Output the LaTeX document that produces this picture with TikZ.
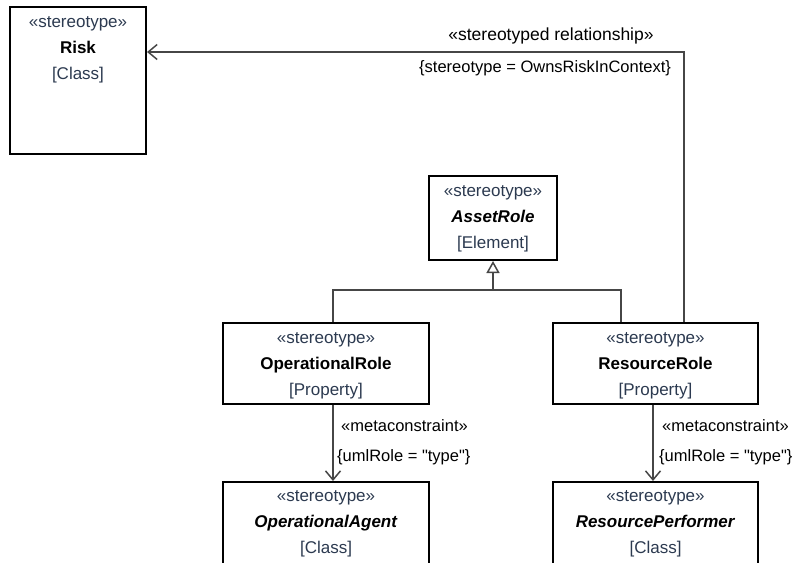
\documentclass[tikz,border=0pt]{standalone}
\usepackage{fontspec}
\setmainfont{Liberation Sans}
\usetikzlibrary{arrows.meta,calc}
\definecolor{stereo}{RGB}{44,58,80}
\definecolor{connc}{RGB}{70,70,70}
\newcommand{\st}{{\color{stereo}«stereotype»}}
\newcommand{\mc}[1]{{\color{stereo}[#1]}}
\begin{document}
\begin{tikzpicture}[x=1pt,y=-1pt,
  umlbox/.style={draw=black,line width=2pt,fill=white,inner sep=0pt,rectangle,anchor=north west},
  boxtext/.style={align=center,inner sep=0pt,font=\fontsize{17}{26}\selectfont},
  lbl/.style={inner sep=0pt,font=\fontsize{16.5}{20}\selectfont,text=black},
  connector/.style={draw=connc,line width=1.5pt},
  barb/.style={-{Straight Barb[length=9pt,width=15pt,line width=1.5pt]}},
  gen/.style={-{Triangle[open,length=12pt,width=13pt,line width=1.5pt,fill=white]}}
]
\useasboundingbox (0,0) rectangle (794,562);
\clip (0,0) rectangle (794,562);
\fill[white] (0,0) rectangle (794,562);

% boxes
\node[umlbox,minimum width=136pt,minimum height=147pt] (risk) at (9,6) {};
\node[umlbox,minimum width=128pt,minimum height=84pt] (ar) at (428,175) {};
\node[umlbox,minimum width=206pt,minimum height=81pt] (or) at (222,322) {};
\node[umlbox,minimum width=205pt,minimum height=81pt] (rr) at (552,322) {};
\node[umlbox,minimum width=206pt,minimum height=100pt] (oa) at (222,481) {};
\node[umlbox,minimum width=205pt,minimum height=100pt] (rp) at (552,481) {};

% box texts
\node[boxtext] (risktxt) at ($(risk.north)+(0,44)$) {\st\\\textbf{Risk}\\\mc{Class}};
\node[boxtext] (artxt) at ($(ar.north)+(0,44)$) {\st\\\textbf{\textit{AssetRole}}\\\mc{Element}};
\node[boxtext] (ortxt) at ($(or.north)+(0,44)$) {\st\\\textbf{OperationalRole}\\\mc{Property}};
\node[boxtext] (rrtxt) at ($(rr.north)+(0,44)$) {\st\\\textbf{ResourceRole}\\\mc{Property}};
\node[boxtext] (oatxt) at ($(oa.north)+(0,43)$) {\st\\\textbf{\textit{OperationalAgent}}\\\mc{Class}};
\node[boxtext] (rptxt) at ($(rp.north)+(0,43)$) {\st\\\textbf{\textit{ResourcePerformer}}\\\mc{Class}};

% stereotyped relationship
\coordinate (rk) at ($(risk.north east)+(0,46)$);
\draw[connector,barb] ([xshift=28.5pt]rr.north) |- (rk);
\node[lbl,font=\fontsize{17.5}{20}\selectfont] (rel) at (551,36) {«stereotyped relationship»};
\node[lbl,anchor=west] (relc) at (419,68) {\{stereotype = OwnsRiskInContext\}};

% generalization
\coordinate (gj) at ($(ar.south)+(0,29)$);
\draw[connector] ([xshift=7pt]or.north) |- (gj);
\draw[connector] ([xshift=-34.5pt]rr.north) |- (gj);
\draw[connector,gen] (gj) -- (ar.south);

% metaconstraints
\draw[connector,barb] ([xshift=7pt]or.south) -- ([xshift=7pt]oa.north);
\draw[connector,barb] ([xshift=-2.5pt]rr.south) -- ([xshift=-2.5pt]rp.north);
\node[lbl,anchor=west] (m1) at (341,426) {«metaconstraint»};
\node[lbl,anchor=west] (c1) at (337,457) {\{umlRole = \textquotedbl type\textquotedbl\}};
\node[lbl,anchor=west] (m2) at (662,426) {«metaconstraint»};
\node[lbl,anchor=west] (c2) at (659,457) {\{umlRole = \textquotedbl type\textquotedbl\}};
\end{tikzpicture}
\end{document}
